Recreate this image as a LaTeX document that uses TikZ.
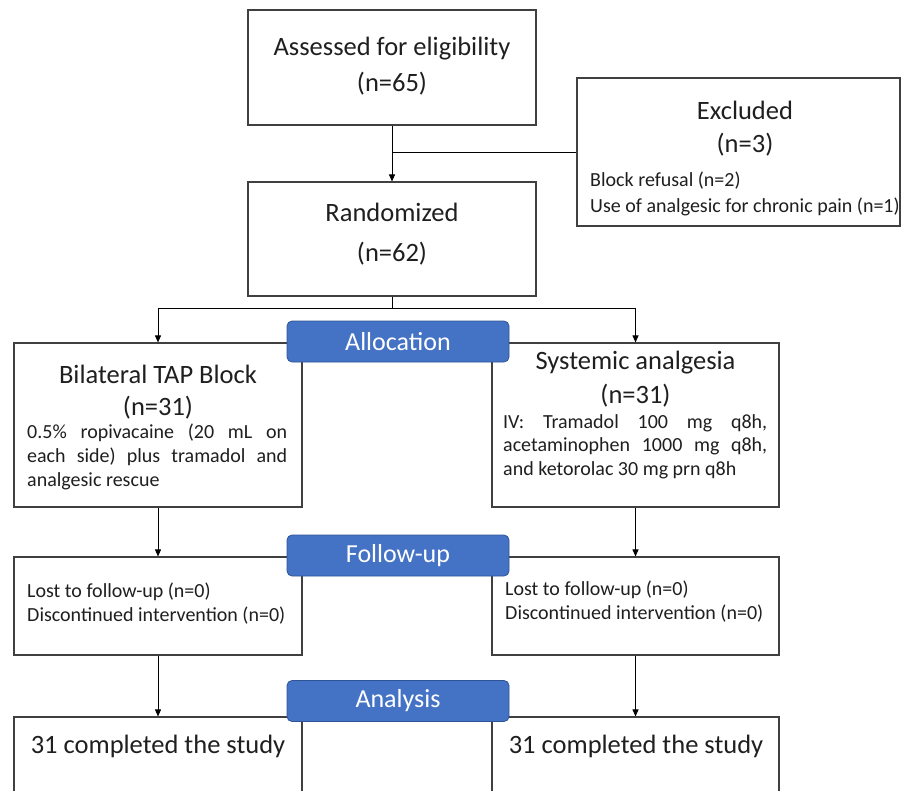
\documentclass[tikz,border=0pt]{standalone}
\usepackage{fontspec}
\setmainfont{Carlito}
\usetikzlibrary{positioning, calc, arrows.meta}

\definecolor{badgeblue}{HTML}{4472C4}
\definecolor{badgeedge}{HTML}{2F5597}

\begin{document}
\begin{tikzpicture}[x=1pt, y=-1pt,
        box/.style={draw=black!75, line width=1.1pt, fill=white, inner sep=0pt},
        badge/.style={draw=badgeedge, line width=0.8pt, fill=badgeblue, rounded corners=5pt,
            minimum width=222pt, minimum height=41pt, inner sep=0pt, text=white,
            font=\fontsize{26}{30}\selectfont},
        big/.style={font=\fontsize{26.5}{36}\selectfont, align=center, text=black!88, inner sep=0pt},
        small/.style={font=\fontsize{20}{24}\selectfont, text=black!88, inner sep=0pt},
        flow/.style={-{Triangle[length=7pt,width=6pt]}, line width=0.9pt}]

        % page size
        \useasboundingbox (0,0) rectangle (901,791);
        \clip (0,0) rectangle (901,791);

        % the boxes
        \node[box, minimum width=288pt, minimum height=115pt] (assess) at (392,67.5) {};
        \node[box, minimum width=323pt, minimum height=148pt] (excl) at (738.5,152) {};
        \node[box, minimum width=288pt, minimum height=114pt] (rand) at (392,239) {};
        \node[box, minimum width=288pt, minimum height=164pt] (tap) at (158,425) {};
        \node[box, minimum width=287pt, minimum height=164pt] (sys) at (635.5,425) {};
        \node[box, minimum width=288pt, minimum height=98pt] (lostL) at (158,606) {};
        \node[box, minimum width=287pt, minimum height=98pt] (lostR) at (635.5,606) {};
        \node[box, minimum width=288pt, minimum height=120pt] (doneL) at (158,777) {};
        \node[box, minimum width=287pt, minimum height=120pt] (doneR) at (635.5,777) {};

        % texts
        \node[big] (assessT) at (392,66) {Assessed for eligibility\\(n=65)};
        \node[big, font=\fontsize{26.5}{33}\selectfont] (exclT) at (745,129) {Excluded\\(n=3)};
        \node[small, anchor=north west, align=left, font=\fontsize{20}{26}\selectfont] (exclD) at (590,172)
            {Block refusal (n=2)\\Use of analgesic for chronic pain (n=1)};
        \node[big, font=\fontsize{26.5}{40}\selectfont] (randT) at (392,234) {Randomized\\(n=62)};

        \node[big, font=\fontsize{26.5}{32}\selectfont] (tapT) at (158,392) {Bilateral TAP Block\\(n=31)};
        \node[small, anchor=north west, text width=260pt, align=justify] (tapD) at (27,424)
            {0.5\% ropivacaine (20 mL on\linebreak each side) plus tramadol and\linebreak analgesic rescue};
        \node[big, font=\fontsize{26.5}{34}\selectfont] (sysT) at (635.5,379) {Systemic analgesia\\(n=31)};
        \node[small, anchor=north west, text width=264pt, align=justify, font=\fontsize{20}{23.5}\selectfont] (sysD) at (503,414)
            {IV: Tramadol 100 mg q8h,\linebreak acetaminophen 1000 mg q8h,\linebreak and ketorolac 30 mg prn q8h};

        \node[small, anchor=north west, align=left] (lostLT) at (27,583)
            {Lost to follow-up (n=0)\\Discontinued intervention (n=0)};
        \node[small, anchor=north west, align=left] (lostRT) at (505,581)
            {Lost to follow-up (n=0)\\Discontinued intervention (n=0)};

        \node[big] (doneLT) at (158,746) {31 completed the study};
        \node[big] (doneRT) at (636,746) {31 completed the study};

        % connectors
        \coordinate (split) at (392,308);
        \draw[flow] (assess.south) -- (rand.north);
        \draw[line width=0.9pt] (assess.south |- excl.west) -- (excl.west);
        \draw[line width=0.9pt] (rand.south) -- (split);
        \draw[flow] (split) -| (tap.north);
        \draw[flow] (split) -| (sys.north);
        \draw[flow] (tap.south) -- (lostL.north);
        \draw[flow] (sys.south) -- (lostR.north);
        \draw[flow] (lostL.south) -- (doneL.north);
        \draw[flow] (lostR.south) -- (doneR.north);

        % the stage labels
        \node[badge] (alloc) at (398,341.5) {Allocation};
        \node[badge] (follow) at (398,555.5) {Follow-up};
        \node[badge] (analysis) at (398,701) {Analysis};
    \end{tikzpicture}
\end{document}
